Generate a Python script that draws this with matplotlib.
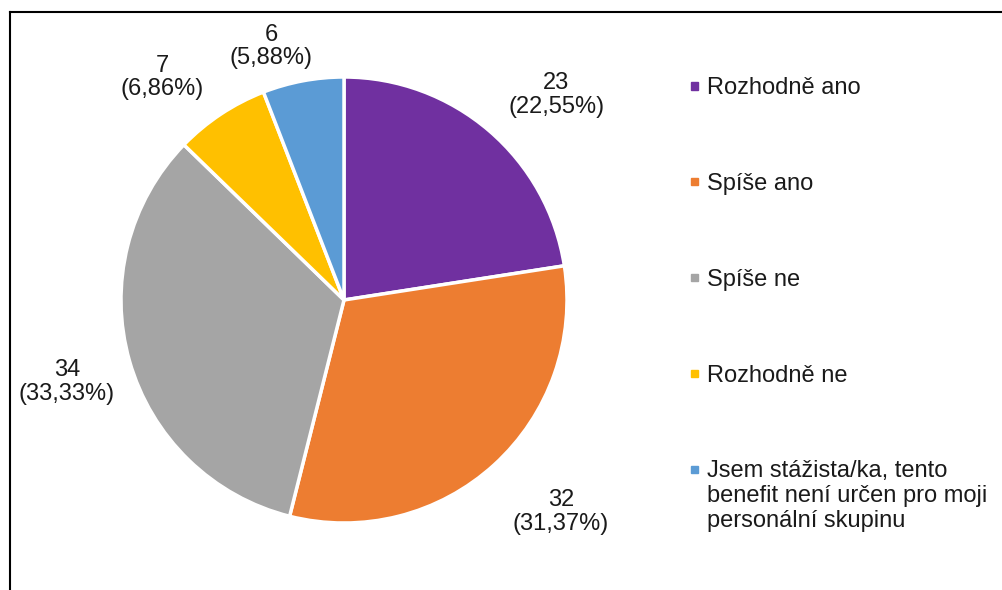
import matplotlib.pyplot as plt
from matplotlib.patches import Rectangle
from matplotlib.lines import Line2D

plt.rcParams['font.family'] = ['Liberation Sans', 'DejaVu Sans']

# data
categories = ['Rozhodně ano', 'Spíše ano', 'Spíše ne', 'Rozhodně ne',
              'Jsem stážista/ka, tento\nbenefit není určen pro moji\npersonální skupinu']
counts = [23, 32, 34, 7, 6]
percents = ['22,55', '31,37', '33,33', '6,86', '5,88']
colors = ['#7030A0', '#ED7D31', '#A5A5A5', '#FFC000', '#5B9BD5']

# where the data labels sit (in pie radius units, "best fit" like Excel)
label_pos = [(0.951, 0.919), (0.973, -0.951), (-1.242, -0.368),
             (-0.816, 0.996), (-0.327, 1.135)]

W, H = 1003, 590
FS = 17
fig = plt.figure(figsize=(W / 100, H / 100), dpi=100)

# pie axes, center ~ (344, 300) px, radius ~ 223 px
cx, cy, r = 344, 300, 223
ax = fig.add_axes([(cx - r) / W, (H - cy - r) / H, 2 * r / W, 2 * r / H])
wedges, _ = ax.pie(counts, colors=colors, startangle=90, counterclock=False,
                   wedgeprops=dict(edgecolor='white', linewidth=2.5))
ax.set_xlim(-1, 1)
ax.set_ylim(-1, 1)
ax.set_aspect('equal')

for c, p, (lx, ly) in zip(counts, percents, label_pos):
    ax.text(lx, ly, '%d\n(%s%%)' % (c, p), fontsize=FS, ha='center', va='center',
            linespacing=1.07, color='#1a1a1a')

# frame lines (top and left)
fig.add_artist(Line2D([10 / W, 1], [1 - 12 / H, 1 - 12 / H], color='black', lw=1.5))
fig.add_artist(Line2D([10 / W, 10 / W], [0, 1 - 12 / H], color='black', lw=1.5))

# legend drawn by hand so the marker sits on the first line
pitch = 24.5  # px between wrapped lines
for i, (lab, col) in enumerate(zip(categories, colors)):
    y = 86 + i * 95.8
    fig.add_artist(Rectangle((691 / W, 1 - (y + 3.5) / H), 7 / W, 7 / H,
                             color=col, transform=fig.transFigure))
    # va='baseline' uses the last line, so push down for wrapped entries
    extra = lab.count('\n') * pitch
    fig.text(707 / W, 1 - (y + 8.5 + extra) / H, lab, fontsize=FS, va='baseline',
             ha='left', linespacing=1.18, color='#1a1a1a')

fig.savefig('out.png', dpi=100)
